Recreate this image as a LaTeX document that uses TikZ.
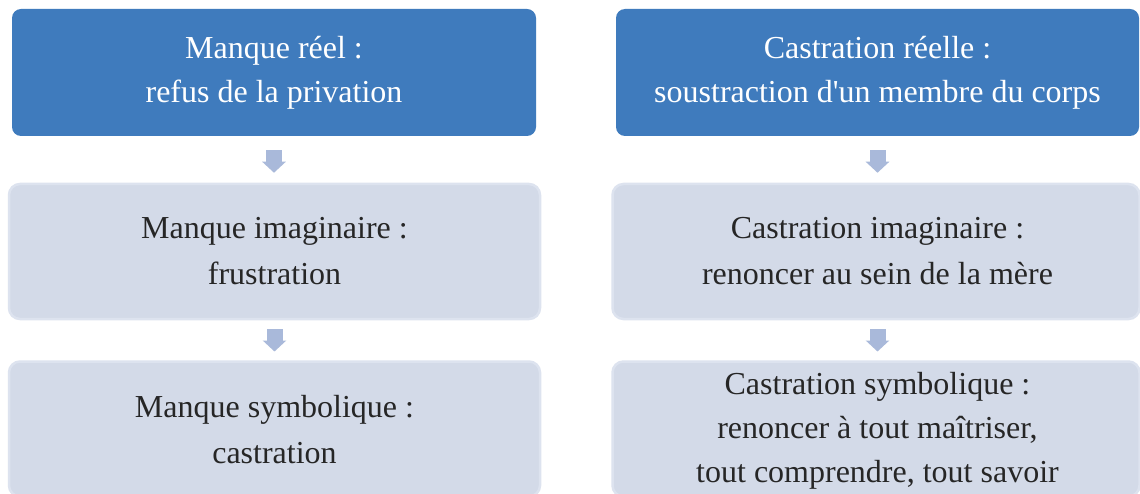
\documentclass[tikz,border=0pt]{standalone}
\usepackage{fontspec}
\setmainfont{Liberation Serif}[Ligatures=TeXOff]
\usetikzlibrary{arrows.meta}
\definecolor{headblue}{HTML}{3F7BBD}
\definecolor{paleblue}{HTML}{D3DAE8}
\definecolor{paleedge}{HTML}{DDE3EF}
\definecolor{arrowblue}{HTML}{A9B9DA}
\definecolor{inktext}{HTML}{262626}
\tikzset{
  headbox/.style={rectangle, rounded corners=9pt, fill=headblue,
    minimum width=524pt, minimum height=127pt, inner sep=0pt},
  lightbox/.style={rectangle, rounded corners=11pt, fill=paleblue, draw=paleedge,
    line width=2.5pt, minimum height=135pt, inner sep=0pt},
  headtext/.style={text=white, inner sep=0pt, align=center,
    font=\fontsize{32pt}{44pt}\selectfont},
  bodytext/.style={text=inktext, inner sep=0pt, align=center,
    font=\fontsize{32pt}{46pt}\selectfont},
  densetext/.style={text=inktext, inner sep=0pt, align=center,
    font=\fontsize{32pt}{44pt}\selectfont},
  flowarrow/.style={draw=arrowblue, line width=16pt,
    -{Triangle[width=23pt,length=11pt]}},
  upperstep/.style={flowarrow, shorten <=14pt, shorten >=10pt},
  lowerstep/.style={flowarrow, shorten <=8.75pt, shorten >=8.75pt},
}
\begin{document}
\begin{tikzpicture}[x=1pt,y=-1pt]
\useasboundingbox (0,0) rectangle (1140,494);
\fill[white] (0,0) rectangle (1140,494);
\begin{scope}
\clip (0,0) rectangle (1140,494);
% left column: lack
\node[headbox] (r1) at (274,72.5) {};
\node[lightbox, minimum width=531pt] (i1) at (274.5,251.5) {};
\node[lightbox, minimum width=531pt] (s1) at (274.5,429) {};
% right column: castration
\node[headbox, minimum width=523pt] (r2) at (877.5,72.5) {};
\node[lightbox, minimum width=527pt] (i2) at (876,251.5) {};
\node[lightbox, minimum width=527pt] (s2) at (876,429) {};
\end{scope}
% captions of the stages
\node[headtext] (r1t) at (r1.center) {Manque réel :\\refus de la privation};
\node[bodytext] (i1t) at (i1.center) {Manque imaginaire :\\frustration};
\node[bodytext] (s1t) at ([yshift=-0.5pt]s1.center) {Manque symbolique :\\castration};
\node[headtext] (r2t) at (r2.center)
  {Castration réelle :\\soustraction d'un membre du corps};
\node[bodytext] (i2t) at ([xshift=1.5pt]i2.center)
  {Castration imaginaire :\\renoncer au sein de la mère};
\node[densetext] (s2t) at ([yshift=-2pt,xshift=1.5pt]s2.center)
  {Castration symbolique :\\renoncer à tout maîtriser,\\tout comprendre, tout savoir};
% arrows between the stages
\draw[upperstep] (r1.south) -- (r1.south |- i1.north);
\draw[lowerstep] (i1.south) -- (s1.north);
\draw[upperstep] (r2.south) -- (r2.south |- i2.north);
\draw[lowerstep] (r2.south |- i2.south) -- (r2.south |- s2.north);
\end{tikzpicture}
\end{document}
